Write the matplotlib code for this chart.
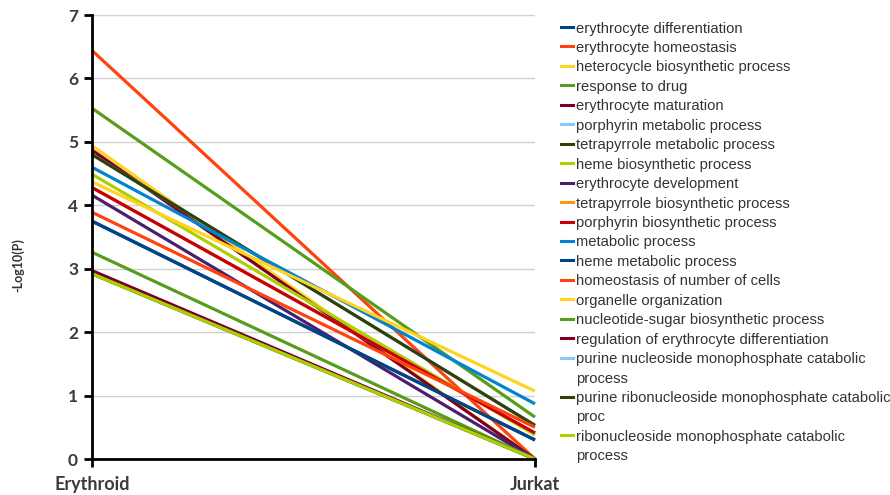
import matplotlib
matplotlib.use("Agg")
import matplotlib.pyplot as plt
from matplotlib.lines import Line2D

conditions = ["Erythroid", "Jurkat"]
terms = [
    "erythrocyte differentiation",
    "erythrocyte homeostasis",
    "heterocycle biosynthetic process",
    "response to drug",
    "erythrocyte maturation",
    "porphyrin metabolic process",
    "tetrapyrrole metabolic process",
    "heme biosynthetic process",
    "erythrocyte development",
    "tetrapyrrole biosynthetic process",
    "porphyrin biosynthetic process",
    "metabolic process",
    "heme metabolic process",
    "homeostasis of number of cells",
    "organelle organization",
    "nucleotide-sugar biosynthetic process",
    "regulation of erythrocyte differentiation",
    "purine nucleoside monophosphate catabolic\nprocess",
    "purine ribonucleoside monophosphate catabolic\nproc",
    "ribonucleoside monophosphate catabolic\nprocess",
]
erythroid = [3.75, 6.44, 4.94, 5.53, 4.87, 4.80, 4.80, 4.49, 4.16, 4.28,
             4.28, 4.60, 3.75, 3.89, 4.37, 3.26, 2.97, 2.92, 2.92, 2.92]
jurkat = [0.30, 0.00, 0.00, 0.66, 0.00, 0.53, 0.53, 0.38, 0.00, 0.41,
          0.41, 0.87, 0.30, 0.50, 1.07, 0.00, 0.00, 0.00, 0.00, 0.00]
colors = ["#004586", "#ff420e", "#ffd320", "#579d1c", "#7e0021", "#83caff",
          "#314004", "#aecf00", "#4b1f6f", "#ff950e", "#c5000b", "#0084d1",
          "#004586", "#ff420e", "#ffd320", "#579d1c", "#7e0021", "#83caff",
          "#314004", "#aecf00"]
yticks = [0, 1, 2, 3, 4, 5, 6, 7]

W, H = 890, 495
fig = plt.figure(figsize=(W / 100, H / 100), dpi=100)
ax = fig.add_axes([92 / W, (H - 459) / H, (535 - 92) / W, (459 - 15) / H])

xs = list(range(len(conditions)))
for i, t in enumerate(terms):
    ax.plot(xs, [erythroid[i], jurkat[i]], color=colors[i], lw=2.3,
            solid_capstyle="butt", zorder=3 + i * 0.01, clip_on=False)

ax.set_xlim(0, 1)
ax.set_ylim(0, 7)
ax.set_yticks(yticks)
ax.set_xticks(xs)
ax.set_xticklabels(conditions)
ax.yaxis.grid(True, color="#d0d0d0", lw=1)
ax.set_axisbelow(True)
for s in ["top", "right"]:
    ax.spines[s].set_visible(False)
for s in ["left", "bottom"]:
    ax.spines[s].set_linewidth(2)
    ax.spines[s].set_color("black")
    ax.spines[s].set_zorder(5)
ax.tick_params(axis="both", direction="out", length=6, width=2, color="black")
for lab in ax.get_yticklabels():
    lab.set_fontfamily("Lato")
    lab.set_fontweight("bold")
    lab.set_fontsize(12.5)
    lab.set_color("#3a3a3a")
for lab in ax.get_xticklabels():
    lab.set_fontfamily("Lato")
    lab.set_fontweight("bold")
    lab.set_fontsize(13)
    lab.set_color("#3a3a3a")
ax.tick_params(axis="x", pad=6)
ax.tick_params(axis="y", pad=4)

fig.text(18 / W, 1 - 265 / H, "-Log10(P)", rotation=90, ha="center", va="center",
         fontsize=9, fontweight="bold", color="#333333", family="Lato")

# legend drawn manually (handle aligned with first line of label)
line_h = 19.45
k = 0
for i, t in enumerate(terms):
    y = 1 - (27 + line_h * k) / H
    fig.add_artist(Line2D([561 / W, 573 / W], [y, y], color=colors[i], lw=2.2,
                          transform=fig.transFigure))
    for j, part in enumerate(t.split("\n")):
        yy = 1 - (27 + line_h * (k + j)) / H
        fig.text(576 / W, yy, part, ha="left", va="center_baseline",
                 fontsize=10.6, family="Liberation Sans", color="#333333")
    k += len(t.split("\n"))

fig.savefig("out.png", dpi=100)
